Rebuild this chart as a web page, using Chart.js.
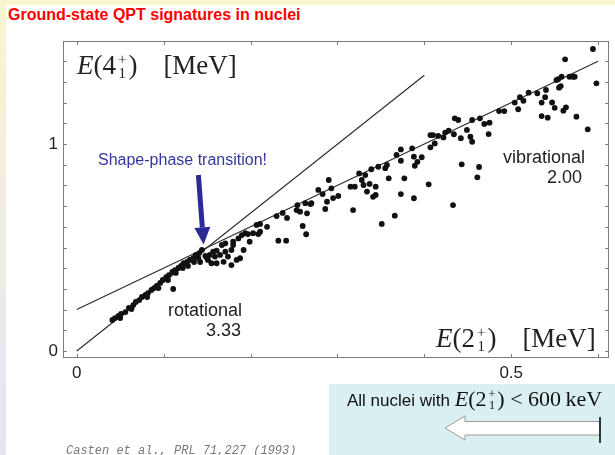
<!DOCTYPE html>
<html>
<head>
<meta charset="utf-8">
<script src="https://cdn.jsdelivr.net/npm/chart.js@4"></script>
<style>
  body { margin: 0; width: 615px; height: 455px; overflow: hidden; background: #fff; position: relative; font-family: "Liberation Sans", Arial, sans-serif; }
  .abs { position: absolute; white-space: nowrap; }
  #strip { left: 0; top: 0; width: 6px; height: 455px; background: linear-gradient(#f8f6cf, #e4e4f6); }
  #band { left: 0; top: 0; width: 615px; height: 5px; background: #f8f6cf; }
  #titre { left: 8px; top: 5px; font: bold 16px "Liberation Sans", Arial, sans-serif; color: #f00; line-height: 19px; }
  canvas { position: absolute; left: 0; top: 0; }
  .serif { font-family: "Liberation Serif", "Times New Roman", serif; color: #222; }
  .ss { display: inline-block; vertical-align: -0.28em; font-size: 0.55em; line-height: 0.95; text-align: center; margin: 0 2px; }
  .gap { display: inline-block; width: 26px; }
  .lbl { font-size: 18px; color: #222; line-height: 18px; }
  #box { left: 329px; top: 384px; width: 286px; height: 71px; background: #d9eff1; }
  #cita { left: 66px; top: 445px; font: italic 12px "Liberation Mono", "Courier New", monospace; color: #777; line-height: 12px; }
</style>
</head>
<body>
<div class="abs" id="band"></div>
<div class="abs" id="strip"></div>
<div class="abs" id="titre">Ground-state QPT signatures in nuclei</div>
<div class="abs" id="box"></div>
<canvas id="grafica" width="615" height="455"></canvas>

<div class="abs serif" style="left:77px; top:52px; font-size:27px; line-height:27px;"><i>E</i>(4<span class="ss">+<br>1</span>)<span class="gap"></span>[MeV]</div>
<div class="abs serif" style="left:436px; top:325px; font-size:27px; line-height:27px;"><i>E</i>(2<span class="ss">+<br>1</span>)<span class="gap"></span>[MeV]</div>

<div class="abs" style="left:98px; top:152px; font-size:16px; line-height:16px; color:#3636a0;">Shape-phase transition!</div>
<div class="abs lbl" style="left:503px; top:148px;">vibrational</div>
<div class="abs lbl" style="left:542px; top:168px; width:40px; text-align:right;">2.00</div>
<div class="abs lbl" style="left:168px; top:301px;">rotational</div>
<div class="abs lbl" style="left:206px; top:321px;">3.33</div>

<div class="abs" style="left:347px; top:388px; font-size:17px; line-height:22px; color:#111;">All nuclei with <span class="serif" style="font-size:22px; color:#111;"><i>E</i>(2<span class="ss">+<br>1</span>) &lt; 600&thinsp;keV</span></div>
<svg class="abs" style="left:0; top:0;" width="615" height="455">
  <polygon points="445,428 465,416 465,421.5 600,421.5 600,435 465,435 465,440" fill="#fff" stroke="#9a9a9a" stroke-width="1"/>
  <line x1="600" y1="417" x2="600" y2="443" stroke="#000" stroke-width="1.5"/>
</svg>
<div class="abs" id="cita">Casten et al., PRL 71,227 (1993)</div>

<script>
// E(2+) and E(4+) in MeV
const e2 = [
  0.041, 0.044, 0.048, 0.051, 0.056, 0.060, 0.065, 0.068, 0.072, 0.075,
  0.079, 0.082, 0.086, 0.089, 0.092, 0.096, 0.099, 0.103, 0.106, 0.110,
  0.113, 0.117, 0.120, 0.123, 0.127, 0.130, 0.134, 0.137, 0.141, 0.144,
  0.111, 0.050, 0.063, 0.081, 0.094, 0.105, 0.114, 0.122, 0.128, 0.135,
  0.140, 0.142, 0.148,
  0.150, 0.153, 0.157, 0.161, 0.155, 0.159, 0.165, 0.169, 0.167, 0.171,
  0.178, 0.180, 0.184, 0.188, 0.192, 0.186, 0.190, 0.194, 0.197, 0.199,
  0.203, 0.209, 0.211, 0.232, 0.241, 0.264, 0.178, 0.171, 0.174, 0.161,
  0.151, 0.180,
  0.207, 0.211, 0.219, 0.230, 0.237, 0.242, 0.254, 0.253, 0.257, 0.265,
  0.260, 0.269, 0.278, 0.283, 0.288, 0.290, 0.293, 0.286, 0.295,
  0.263, 0.270, 0.301, 0.318, 0.315, 0.320, 0.325, 0.328, 0.330, 0.332,
  0.334, 0.337, 0.339, 0.341, 0.344, 0.344, 0.347, 0.351, 0.355, 0.357,
  0.359, 0.366, 0.368, 0.373, 0.373, 0.373, 0.377, 0.386, 0.388, 0.388,
  0.389, 0.392, 0.397, 0.405, 0.407, 0.407, 0.410, 0.412, 0.416, 0.422,
  0.424, 0.428, 0.433, 0.434, 0.435, 0.439, 0.442, 0.443, 0.449, 0.453,
  0.455, 0.455, 0.461, 0.463, 0.464, 0.469, 0.474, 0.475, 0.486, 0.492,
  0.504, 0.508, 0.510, 0.514, 0.520, 0.530, 0.535, 0.535, 0.539, 0.540,
  0.542, 0.547, 0.550, 0.552, 0.555, 0.557, 0.558, 0.560, 0.562, 0.563,
  0.567, 0.571, 0.573, 0.575, 0.588, 0.594, 0.598, 0.554
];
const e4 = [
  0.150, 0.159, 0.169, 0.179, 0.188, 0.208, 0.222, 0.237, 0.246, 0.261,
  0.271, 0.280, 0.295, 0.304, 0.314, 0.329, 0.343, 0.357, 0.367, 0.382,
  0.391, 0.401, 0.411, 0.425, 0.430, 0.440, 0.449, 0.464, 0.473, 0.488,
  0.300, 0.159, 0.203, 0.261, 0.304, 0.343, 0.377, 0.401, 0.411, 0.430,
  0.449, 0.430, 0.459,
  0.448, 0.464, 0.480, 0.485, 0.424, 0.456, 0.464, 0.431, 0.512, 0.520,
  0.415, 0.512, 0.440, 0.448, 0.488, 0.544, 0.560, 0.569, 0.565, 0.528,
  0.569, 0.565, 0.576, 0.533, 0.533, 0.564, 0.488, 0.480, 0.456, 0.424,
  0.440, 0.528,
  0.609, 0.614, 0.600, 0.652, 0.667, 0.643, 0.705, 0.681, 0.673, 0.665,
  0.604, 0.710, 0.778, 0.758, 0.721, 0.826, 0.786, 0.686, 0.739,
  0.714, 0.714, 0.749, 0.681, 0.794, 0.794, 0.858, 0.826, 0.802, 0.850,
  0.770, 0.807, 0.878, 0.745, 0.794, 0.754, 0.890, 0.614, 0.883, 0.899,
  0.834, 0.654, 0.947, 0.974, 0.919, 0.758, 0.834, 0.979, 0.939, 0.738,
  0.895, 0.914, 0.936, 0.805, 0.984, 1.043, 1.043, 1.003, 1.039, 1.032,
  1.055, 1.064, 0.705, 1.047, 1.124, 1.116, 1.028, 0.902, 1.068, 1.035,
  1.116, 1.011, 0.839, 0.889, 1.124, 1.097, 1.048, 1.103, 1.159, 1.159,
  1.200, 1.168, 1.226, 1.209, 1.248, 1.245, 1.200, 1.135, 1.226, 1.261,
  1.127, 1.201, 1.175, 1.309, 1.272, 1.280, 1.325, 1.161, 1.409, 1.177,
  1.325, 1.325, 1.325, 1.132, 1.071, 1.459, 1.293, 1.313
];

// reference lines (end points in MeV)
const rotX = [0, 0.4];
const rotY = [0, 1.332];
const vibX = [0, 0.6];
const vibY = [0.2, 1.4];

// axes
const xTicks = [0, 0.1, 0.2, 0.3, 0.4, 0.5, 0.6];
const xLabels = ["0", "", "", "", "", "0.5", ""];
const yTicks = [0, 0.1, 0.2, 0.3, 0.4, 0.5, 0.6, 0.7, 0.8, 0.9, 1.0, 1.1, 1.2, 1.3, 1.4];
const yLabels = ["0", "", "", "", "", "", "", "", "", "", "1", "", "", "", ""];

// arrow "shape-phase transition" (tail, tip) in MeV
const flechaX = [0.140, 0.146];
const flechaY = [0.850, 0.515];

const puntos = e2.map((v, i) => ({ x: v, y: e4[i] }));
const linea = (xs, ys) => xs.map((v, i) => ({ x: v, y: ys[i] }));

const marco = {
  id: "marco",
  afterDatasetsDraw(chart) {
    const { ctx, chartArea: a, scales } = chart;
    const sx = scales.x, sy = scales.y;
    ctx.save();
    ctx.strokeStyle = "#7c7c7c";
    ctx.lineWidth = 1;
    ctx.strokeRect(a.left + 0.5, a.top + 0.5, a.right - a.left - 1, a.bottom - a.top - 1);
    ctx.beginPath();
    xTicks.forEach(v => {
      const p = Math.round(sx.getPixelForValue(v)) + 0.5;
      ctx.moveTo(p, a.top); ctx.lineTo(p, a.top + 4);
      ctx.moveTo(p, a.bottom); ctx.lineTo(p, a.bottom - 4);
    });
    yTicks.forEach(v => {
      const p = Math.round(sy.getPixelForValue(v)) + 0.5;
      ctx.moveTo(a.left, p); ctx.lineTo(a.left + 4, p);
      ctx.moveTo(a.right, p); ctx.lineTo(a.right - 4, p);
    });
    ctx.stroke();

    // blue arrow
    const x0 = sx.getPixelForValue(flechaX[0]), y0 = sy.getPixelForValue(flechaY[0]);
    const x1 = sx.getPixelForValue(flechaX[1]), y1 = sy.getPixelForValue(flechaY[1]);
    const ang = Math.atan2(y1 - y0, x1 - x0);
    const largo = 17, ancho = 8;
    const bx = x1 - largo * Math.cos(ang), by = y1 - largo * Math.sin(ang);
    ctx.strokeStyle = "#2b2b98";
    ctx.fillStyle = "#2b2b98";
    ctx.lineWidth = 5;
    ctx.beginPath();
    ctx.moveTo(x0, y0); ctx.lineTo(bx, by);
    ctx.stroke();
    ctx.beginPath();
    ctx.moveTo(x1, y1);
    ctx.lineTo(bx + ancho * Math.sin(ang), by - ancho * Math.cos(ang));
    ctx.lineTo(bx - ancho * Math.sin(ang), by + ancho * Math.cos(ang));
    ctx.closePath();
    ctx.fill();
    ctx.restore();
  }
};

new Chart(document.getElementById("grafica"), {
  type: "scatter",
  data: {
    datasets: [
      {
        data: puntos,
        pointRadius: 2.9,
        pointHoverRadius: 2.9,
        backgroundColor: "#111",
        borderWidth: 0
      },
      {
        type: "line",
        data: linea(rotX, rotY),
        borderColor: "#2a2a2a",
        borderWidth: 1.1,
        pointRadius: 0,
        fill: false
      },
      {
        type: "line",
        data: linea(vibX, vibY),
        borderColor: "#2a2a2a",
        borderWidth: 1.1,
        pointRadius: 0,
        fill: false
      }
    ]
  },
  options: {
    responsive: false,
    animation: false,
    events: [],
    layout: { padding: { top: 41, right: 6, left: 0, bottom: 0 } },
    plugins: { legend: { display: false }, tooltip: { enabled: false } },
    scales: {
      x: {
        type: "linear",
        min: -0.0158,
        max: 0.6125,
        grid: { display: false, drawTicks: false },
        border: { display: false },
        afterBuildTicks: s => { s.ticks = xTicks.map(v => ({ value: v })); },
        afterFit: s => { s.height = 97; },
        ticks: {
          autoSkip: false,
          maxRotation: 0,
          padding: 5,
          color: "#222",
          font: { family: "Liberation Sans", size: 17 },
          callback: (v, i) => xLabels[i]
        }
      },
      y: {
        type: "linear",
        min: -0.0338,
        max: 1.4976,
        grid: { display: false, drawTicks: false },
        border: { display: false },
        afterBuildTicks: s => { s.ticks = yTicks.map(v => ({ value: v })); },
        afterFit: s => { s.width = 63; },
        ticks: {
          autoSkip: false,
          padding: 5,
          color: "#222",
          font: { family: "Liberation Sans", size: 17 },
          callback: (v, i) => yLabels[i]
        }
      }
    }
  },
  plugins: [marco]
});
</script>
</body>
</html>
